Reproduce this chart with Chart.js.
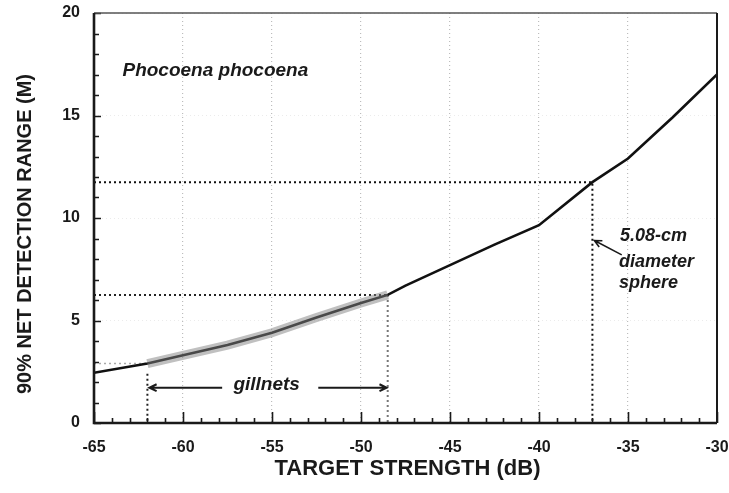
<!DOCTYPE html>
<html>
<head>
<meta charset="utf-8">
<script src="https://cdn.jsdelivr.net/npm/chart.js@4/dist/chart.umd.min.js"></script>
<style>
  html, body { margin: 0; padding: 0; background: #fff; }
  #wrap { width: 729px; height: 493px; }
</style>
</head>
<body>
<div id="wrap"><canvas id="c"></canvas></div>
<script>
// Net detection range versus target strength (Phocoena phocoena)
const targetStrength = [-65, -62, -60, -57.5, -55, -52.5, -50, -48.5, -47.5, -45, -42.5, -40, -37, -35, -32.5, -30];
const detectionRange = [2.45, 2.9, 3.3, 3.8, 4.4, 5.15, 5.85, 6.25, 6.7, 7.7, 8.7, 9.65, 11.75, 12.9, 14.9, 17.0];

// Gillnet target-strength span and the ranges it maps to
const gillnetTS = [-62, -48.5];
const gillnetRange = [2.9, 6.25];
const gillnetDropTop = 2.4;

// 5.08-cm diameter reference sphere
const sphereTS = -37;
const sphereRange = 11.75;

// Axis limits and tick labels
const xTickLabels = [-65, -60, -55, -50, -45, -40, -35, -30];
const yTickLabels = [0, 5, 10, 15, 20];

const FONT = '"Liberation Sans", Arial, sans-serif';

const curvePoints = targetStrength.map((t, i) => ({ x: t, y: detectionRange[i] }));
const gillnetBand = curvePoints.filter(p => p.x >= gillnetTS[0] && p.x <= gillnetTS[1]);

const lineSet = (data, color, width, dash) => ({
  data, showLine: true, borderColor: color, borderWidth: width,
  borderDash: dash || [], pointRadius: 0, pointHoverRadius: 0, fill: false, tension: 0
});

function arrow(ctx, x1, y1, x2, y2, size) {
  const ang = Math.atan2(y2 - y1, x2 - x1);
  ctx.beginPath();
  ctx.moveTo(x1, y1); ctx.lineTo(x2, y2);
  ctx.moveTo(x2 - size * Math.cos(ang - 0.45), y2 - size * Math.sin(ang - 0.45));
  ctx.lineTo(x2, y2);
  ctx.lineTo(x2 - size * Math.cos(ang + 0.45), y2 - size * Math.sin(ang + 0.45));
  ctx.stroke();
}

const decor = {
  id: 'decor',
  afterDraw(chart) {
    const { ctx, chartArea: a, scales: { x, y } } = chart;
    const xMin = xTickLabels[0], xMax = xTickLabels[xTickLabels.length - 1];
    const yMin = yTickLabels[0], yMax = yTickLabels[yTickLabels.length - 1];
    ctx.save();

    // inward tick marks
    ctx.strokeStyle = '#1a1a1a';
    ctx.lineWidth = 1.6;
    ctx.beginPath();
    for (let v = xMin; v <= xMax; v++) {
      const px = Math.round(x.getPixelForValue(v)) + 0.5;
      const len = (v % 5 === 0) ? 11 : 5;
      ctx.moveTo(px, a.bottom); ctx.lineTo(px, a.bottom - len);
    }
    for (let v = yMin; v <= yMax; v++) {
      const py = Math.round(y.getPixelForValue(v)) + 0.5;
      const len = (v % 5 === 0) ? 7 : 5;
      ctx.moveTo(a.left, py); ctx.lineTo(a.left + len, py);
    }
    ctx.stroke();

    // frame
    ctx.strokeStyle = '#555';
    ctx.lineWidth = 1.5;
    ctx.beginPath();
    ctx.moveTo(a.left, a.top); ctx.lineTo(a.right, a.top);
    ctx.stroke();
    ctx.strokeStyle = '#1a1a1a';
    ctx.lineWidth = 2;
    ctx.beginPath();
    ctx.moveTo(a.right, a.top); ctx.lineTo(a.right, a.bottom);
    ctx.stroke();
    ctx.lineWidth = 2.6;
    ctx.beginPath();
    ctx.moveTo(a.left, a.top); ctx.lineTo(a.left, a.bottom); ctx.lineTo(a.right, a.bottom);
    ctx.stroke();

    // axis titles
    ctx.fillStyle = '#1a1a1a';
    ctx.textAlign = 'center';
    ctx.textBaseline = 'middle';
    ctx.font = 'bold 22px ' + FONT;
    ctx.fillText('TARGET STRENGTH (dB)', (a.left + a.right) / 2 + 2, a.bottom + 46);
    ctx.save();
    ctx.translate(25, (a.top + a.bottom) / 2 + 16);
    ctx.rotate(-Math.PI / 2);
    ctx.font = 'bold 20px ' + FONT;
    ctx.fillText('90% NET DETECTION RANGE (M)', 0, 0);
    ctx.restore();

    // species label
    ctx.textAlign = 'left';
    ctx.font = 'italic bold 19px ' + FONT;
    ctx.fillText('Phocoena phocoena', x.getPixelForValue(-63.4), y.getPixelForValue(17.2));

    // sphere label and pointer
    const sx = x.getPixelForValue(-35.45);
    ctx.font = 'italic bold 18px ' + FONT;
    ctx.fillText('5.08-cm', sx, y.getPixelForValue(9.1));
    ctx.fillText('diameter', sx - 1, y.getPixelForValue(7.85));
    ctx.fillText('sphere', sx - 1, y.getPixelForValue(6.85));
    ctx.lineWidth = 1.6;
    arrow(ctx, x.getPixelForValue(-35.35), y.getPixelForValue(8.2),
               x.getPixelForValue(sphereTS) + 2, y.getPixelForValue(8.9), 8);

    // gillnet span
    const gy = y.getPixelForValue(1.72);
    ctx.textAlign = 'center';
    ctx.font = 'italic bold 19px ' + FONT;
    ctx.fillText('gillnets', x.getPixelForValue(-55.3), y.getPixelForValue(1.85));
    ctx.lineWidth = 2;
    arrow(ctx, x.getPixelForValue(-57.8), gy, x.getPixelForValue(gillnetTS[0]) + 2, gy, 8);
    arrow(ctx, x.getPixelForValue(-52.4), gy, x.getPixelForValue(gillnetTS[1]) - 1, gy, 8);

    ctx.restore();
  }
};

new Chart(document.getElementById('c'), {
  type: 'scatter',
  data: {
    datasets: [
      lineSet(gillnetBand, 'rgba(130,130,130,0.5)', 9),
      lineSet(curvePoints, '#111', 2.6),
      lineSet([{ x: xTickLabels[0], y: sphereRange }, { x: sphereTS, y: sphereRange }, { x: sphereTS, y: 0 }], '#111', 2, [2, 3]),
      lineSet([{ x: xTickLabels[0], y: gillnetRange[1] }, { x: gillnetTS[1], y: gillnetRange[1] }], '#222', 2, [2, 3]),
      lineSet([{ x: gillnetTS[1], y: gillnetRange[1] }, { x: gillnetTS[1], y: 0 }], '#777', 2, [2, 3]),
      lineSet([{ x: xTickLabels[0], y: gillnetRange[0] }, { x: gillnetTS[0], y: gillnetRange[0] }], '#aaa', 1.6, [2, 3]),
      lineSet([{ x: gillnetTS[0], y: gillnetDropTop }, { x: gillnetTS[0], y: 0 }], '#222', 2, [2, 3])
    ]
  },
  options: {
    responsive: true,
    maintainAspectRatio: false,
    animation: false,
    devicePixelRatio: 1,
    layout: { padding: { top: 13, right: 12, left: 0, bottom: 0 } },
    plugins: { legend: { display: false }, tooltip: { enabled: false } },
    scales: {
      x: {
        type: 'linear',
        min: xTickLabels[0],
        max: xTickLabels[xTickLabels.length - 1],
        afterFit(scale) { scale.height = 70; scale.paddingLeft = 0; scale.paddingRight = 0; },
        afterBuildTicks(scale) { scale.ticks = xTickLabels.map(v => ({ value: v })); },
        ticks: {
          padding: 15,
          color: '#1a1a1a',
          font: { family: FONT, size: 16, weight: 'bold' },
          callback: v => String(v)
        },
        grid: {
          drawTicks: false,
          color: ctx => (ctx.tick && (ctx.tick.value === xTickLabels[0] || ctx.tick.value === xTickLabels[xTickLabels.length - 1])) ? 'rgba(0,0,0,0)' : '#bdbdbd',
          lineWidth: 1.2
        },
        border: { display: false, dash: [1, 3] }
      },
      y: {
        type: 'linear',
        min: yTickLabels[0],
        max: yTickLabels[yTickLabels.length - 1],
        afterFit(scale) { scale.width = 94; scale.paddingTop = 0; scale.paddingBottom = 0; },
        afterBuildTicks(scale) { scale.ticks = yTickLabels.map(v => ({ value: v })); },
        ticks: {
          padding: 14,
          color: '#1a1a1a',
          font: { family: FONT, size: 16, weight: 'bold' },
          callback: v => String(v)
        },
        grid: {
          drawTicks: false,
          color: 'rgba(0,0,0,0.08)',
          lineWidth: 1
        },
        border: { display: false, dash: [1, 3] }
      }
    }
  },
  plugins: [decor]
});
</script>
</body>
</html>
